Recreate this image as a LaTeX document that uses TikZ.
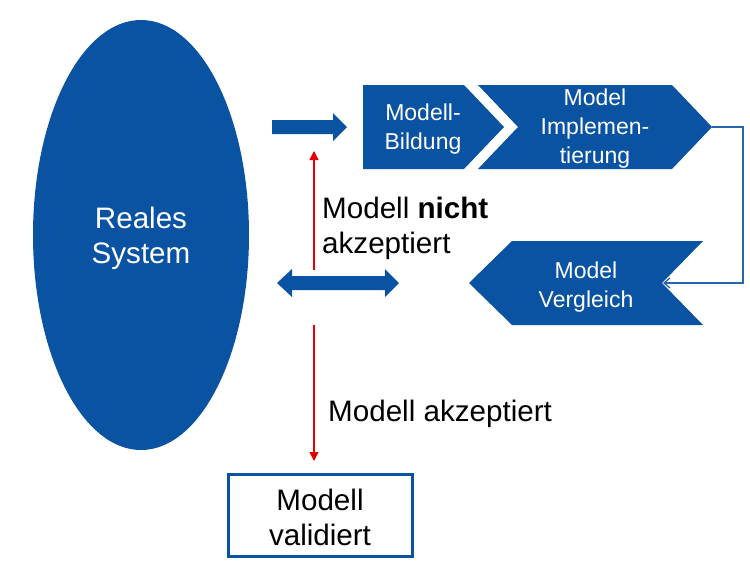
\documentclass[tikz,border=0pt]{standalone}
\usepackage{fontspec}
\setmainfont{Liberation Sans}
\usetikzlibrary{arrows.meta,shapes.geometric}
\definecolor{dblue}{RGB}{10,83,162}
\definecolor{lblue}{RGB}{40,100,175}
\definecolor{rred}{RGB}{228,0,0}
\begin{document}
\begin{tikzpicture}[x=1pt,y=-1pt,
  bigtxt/.style={font=\fontsize{29.6}{35}\selectfont, align=center, inner sep=0pt},
  chtxt/.style={font=\fontsize{23}{29}\selectfont, align=center, text=white, inner sep=0pt},
  shapefill/.style={fill=dblue},
  redarrow/.style={draw=rred, line width=1.3pt, -{Triangle[length=9pt,width=9pt]}},
  conn/.style={draw=lblue, line width=1.3pt, -{Straight Barb[length=6pt,width=10pt]}}]
\useasboundingbox (0,0) rectangle (750,582);
% Reales System
\node[ellipse, shapefill, minimum width=216pt, minimum height=430pt, inner sep=0pt] (sys) at (141,235) {};
\node[bigtxt, text=white] (systxt) at (141,238) {Reales\\System};
% right arrow
\fill[dblue] (272,120) -- (333,120) -- (333,113) -- (347,127) -- (333,141) -- (333,134) -- (272,134) -- cycle;
% double arrow
\fill[dblue] (277,283) -- (292,269) -- (292,276) -- (385,276) -- (385,269) -- (399,283) -- (385,297) -- (385,290) -- (292,290) -- (292,297) -- cycle;
% chevrons
\fill[dblue] (363,85) -- (464,85) -- (504,127) -- (464,169) -- (363,169) -- cycle;
\fill[dblue] (478,85) -- (672,85) -- (712,127) -- (672,169) -- (478,169) -- (518,127) -- cycle;
\fill[dblue] (469,283) -- (512,241) -- (703,241) -- (662,283) -- (703,325) -- (512,325) -- cycle;
\node[chtxt] (bild) at (423,129) {Modell-\\Bildung};
\node[chtxt] (impl) at (595,129) {Model\\Implemen-\\tierung};
\node[chtxt] (vgl) at (586,287) {Model\\Vergleich};
% connector
\coordinate (c2tip) at (712,127);
\coordinate (c3notch) at (663,283);
\draw[conn] (c2tip) -- (743,127) -- (743,283) -- (c3notch);
% red arrows
\coordinate (ru0) at (314,270);
\coordinate (ru1) at (314,151);
\draw[redarrow] (ru0) -- (ru1);
\coordinate (rd0) at (314,325);
\coordinate (rd1) at (314,461);
\draw[redarrow] (rd0) -- (rd1);
% labels
\node[bigtxt, align=left, anchor=west] (nicht) at (322,228) {Modell \textbf{nicht}\\akzeptiert};
\node[bigtxt, anchor=west] (akz) at (328,414) {Modell akzeptiert};
% validated box
\node[draw=dblue, line width=3pt, minimum width=184pt, minimum height=82pt] (val) at (320,515.5) {};
\node[bigtxt] (valtxt) at (320,517.5) {Modell\\validiert};
\end{tikzpicture}
\end{document}
